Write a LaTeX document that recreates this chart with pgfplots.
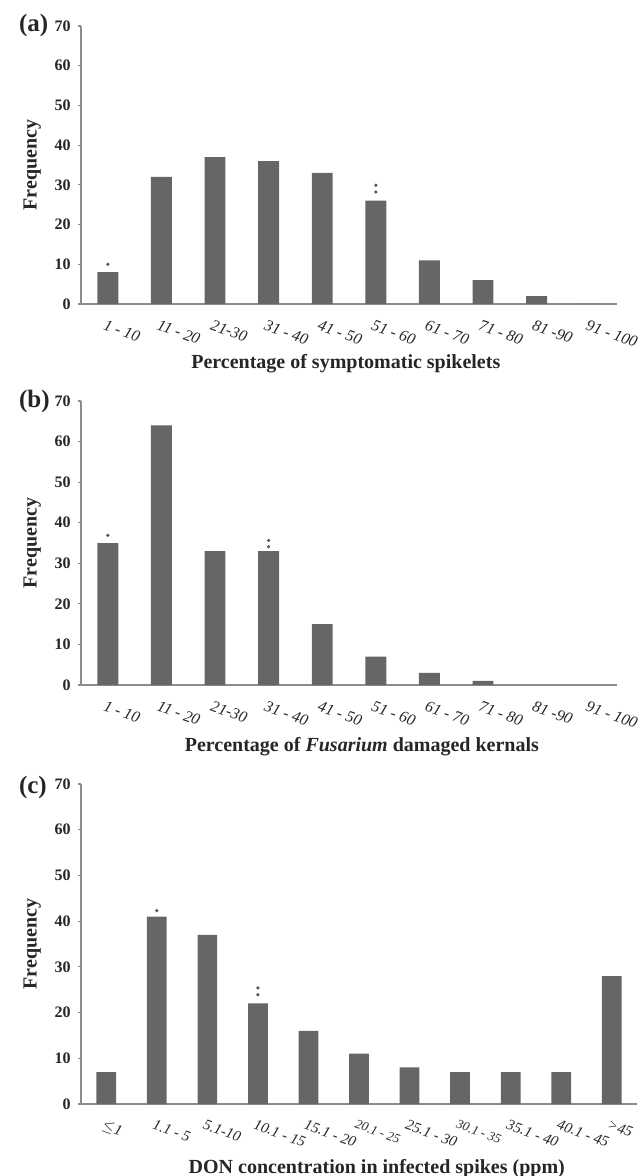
\documentclass[border=0pt]{standalone}
\usepackage{fontspec}
\setmainfont{Liberation Serif}
\usepackage{pgfplots}
\pgfplotsset{compat=1.18}
\definecolor{barc}{HTML}{666666}
\definecolor{axc}{HTML}{8C8C8C}
\definecolor{dotc}{HTML}{555555}
\pgfplotsset{
  panel/.style={
    scale only axis,
    anchor=south west,
    axis lines=left,
    axis line style={-, draw=axc, line width=0.6pt},
    ymin=0, ymax=70,
    ytick={0,10,...,70},
    ytick pos=left,
    tick align=outside,
    major tick length=1.6pt,
    y tick style={draw=axc, line width=0.6pt},
    x tick style={draw=none},
    xtick=data,
    /pgf/number format/assume math mode=true,
    yticklabel style={font=\bfseries\fontsize{8}{9}\selectfont, text=black!85},
    xticklabel style={font=\itshape\fontsize{8}{9}\selectfont, rotate=-20, anchor=north west, xshift=-2.2pt, yshift=-2.5pt, text=black!85},
    ylabel={Frequency},
    ylabel style={font=\bfseries\fontsize{10}{12}\selectfont, text=black!85},
    xlabel style={font=\bfseries\fontsize{10}{12}\selectfont, text=black!85, anchor=base},
    bar width=0.39,
    clip=false,
  },
  bars/.style={ybar, fill=barc, draw=none},
  dots/.style={only marks, mark=*, mark size=0.6pt, color=dotc},
}
\pgfplotstableread{
x y
0 8
1 32
2 37
3 36
4 33
5 26
6 11
7 6
8 2
9 0
}\dataA
\pgfplotstableread{
x y
0 35
1 64
2 33
3 33
4 15
5 7
6 3
7 1
8 0
9 0
}\dataB
\pgfplotstableread{
x y
0 7
1 41
2 37
3 22
4 16
5 11
6 8
7 7
8 7
9 7
10 28
}\dataC
\begin{document}
\begin{tikzpicture}
\useasboundingbox (0,0) rectangle (319.5pt,-588pt);
% (a)
\begin{axis}[panel,
  at={(40.5pt,-152pt)}, width=268pt, height=139pt,
  xmin=-0.5, xmax=9.5,
  xticklabels={1 - 10, 11 - 20, 21-30, 31 - 40, 41 - 50, 51 - 60, 61 - 70, 71 - 80, 81 -90, 91 - 100},
  xlabel={Percentage of symptomatic spikelets},
  xlabel style={at={(axis description cs:0.494,0)}, yshift=-32pt},
]
\addplot[bars] table[x=x,y=y] {\dataA};
\addplot[dots] coordinates {(0,10) (5,28.2) (5,29.9)};
\end{axis}
\node[anchor=west, font=\bfseries\fontsize{12.5}{14}\selectfont, text=black!85] at (6pt,-12.8pt) {(a)};
% (b)
\begin{axis}[panel,
  at={(40.5pt,-342.5pt)}, width=268pt, height=142pt,
  xmin=-0.5, xmax=9.5,
  xticklabels={1 - 10, 11 - 20, 21-30, 31 - 40, 41 - 50, 51 - 60, 61 - 70, 71 - 80, 81 -90, 91 - 100},
  xlabel={Percentage of \textit{Fusarium} damaged kernals},
  xlabel style={at={(axis description cs:0.524,0)}, yshift=-33pt},
]
\addplot[bars] table[x=x,y=y] {\dataB};
\addplot[dots] coordinates {(0,36.9) (3,34.1) (3,35.6)};
\end{axis}
\node[anchor=west, font=\bfseries\fontsize{12.5}{14}\selectfont, text=black!85] at (6pt,-200.5pt) {(b)};
% (c)
\begin{axis}[panel,
  at={(40.5pt,-552pt)}, width=278pt, height=160pt,
  xmin=-0.5, xmax=10.5,
  xticklabel style={font=\itshape\fontsize{7.5}{8}\selectfont},
  xticklabels={$\leq$1, 1.1 - 5, 5.1-10, 10.1 - 15, 15.1 - 20, {\fontsize{6.5}{7}\selectfont 20.1 - 25}, 25.1 - 30, {\fontsize{6.5}{7}\selectfont 30.1 - 35}, 35.1 - 40, 40.1 - 45, >45},
  xlabel={DON concentration in infected spikes (ppm)},
  xlabel style={at={(axis description cs:0.532,0)}, yshift=-34.5pt},
]
\addplot[bars] table[x=x,y=y] {\dataC};
\addplot[dots] coordinates {(1,42.3) (3,23.9) (3,25.4)};
\end{axis}
\node[anchor=west, font=\bfseries\fontsize{12.5}{14}\selectfont, text=black!85] at (6pt,-393.5pt) {(c)};
\end{tikzpicture}
\end{document}
